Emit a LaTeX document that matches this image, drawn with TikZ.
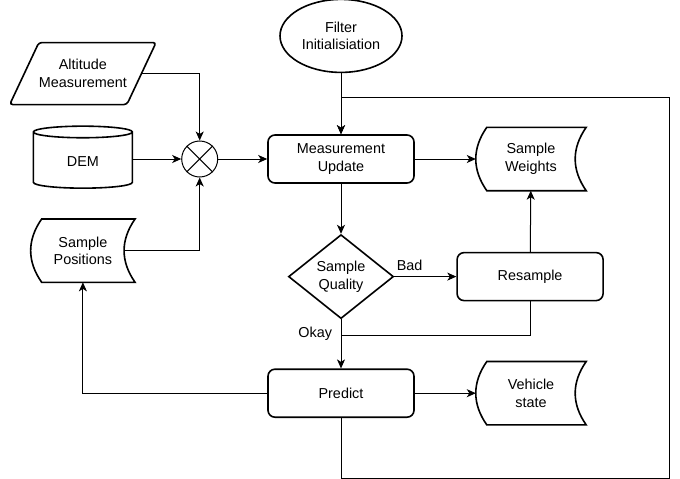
\documentclass[tikz,border=0pt]{standalone}
\usepackage{fontspec}
\setmainfont{Liberation Sans}
\usepackage{tikz}
\usetikzlibrary{shapes.geometric, arrows.meta, positioning}

\begin{document}
\begin{tikzpicture}[
    x=1pt, y=-1pt,
    font=\fontsize{14.4}{17.5}\selectfont,
    block/.style={rectangle, draw, line width=1.6pt, rounded corners=7pt, align=center, minimum width=146pt, minimum height=48pt},
    oval/.style={ellipse, draw, line width=1.6pt, align=center, inner sep=0pt, minimum width=122pt, minimum height=73pt},
    inout/.style={trapezium, trapezium left angle=50, trapezium right angle=130, trapezium stretches=true, draw, line width=1.6pt, rounded corners=3pt, align=center, inner xsep=0pt, minimum width=142pt, minimum height=62pt},
    db/.style={cylinder, shape border rotate=90, aspect=0.3, draw, line width=1.6pt, align=center, minimum width=99pt, minimum height=62pt},
    decision/.style={diamond, draw, line width=1.6pt, align=center, inner sep=0pt, minimum width=105pt, minimum height=84pt},
    mixer/.style={circle, draw, line width=1pt, minimum size=36pt, inner sep=0pt},
    store/.style={rectangle, align=center, inner sep=0pt, minimum width=110pt, minimum height=63pt,
        append after command={\pgfextra{\draw[line width=1.6pt]
            ([xshift=11pt]\tikzlastnode.north west) -- (\tikzlastnode.north east)
            .. controls ([xshift=-14.7pt, yshift=-21pt]\tikzlastnode.north east)
            and ([xshift=-14.7pt, yshift=21pt]\tikzlastnode.south east) .. (\tikzlastnode.south east)
            -- ([xshift=11pt]\tikzlastnode.south west)
            .. controls ([xshift=-3.7pt, yshift=21pt]\tikzlastnode.south west)
            and ([xshift=-3.7pt, yshift=-21pt]\tikzlastnode.north west) .. cycle;}}},
    arrow/.style={-{Stealth[length=9pt, width=8pt, inset=2.5pt]}, line width=1pt}
]
    \useasboundingbox (0,0) rectangle (680,479);
    \node [block] (mu) at (341,159) {Measurement\\Update};
    \node [oval, above=61pt of mu] (init) {Filter\\Initialisiation};
    \node [store, right=61pt of mu] (sw) {Sample\\Weights};
    \node [mixer, left=49pt of mu] (mix) {};
    \node [db, left=48pt of mix, yshift=-2.5pt] (dem) {DEM};
    \node [inout, above=20pt of dem] (alt) {Altitude\\Measurement};
    \node [store, minimum width=104pt, below=30pt of dem] (sp) {Sample\\Positions};
    \node [decision, below=50pt of mu] (sq) {Sample\\Quality};
    \node [block, right=62pt of sq] (rs) {Resample};
    \node [block, below=49pt of sq] (pr) {Predict};
    \node [store, right=61pt of pr] (vs) {Vehicle\\state};
    \coordinate [below=16pt of sq.south] (join);
    \draw [line width=1pt] (mix.45) -- (mix.225) (mix.135) -- (mix.-45);
    \draw [arrow] (init) -- (mu);
    \draw [arrow] (alt.east) -| (mix);
    \draw [arrow] (dem.east |- mix) -- (mix);
    \draw [arrow] ([xshift=-11pt]sp.east) -| (mix);
    \draw [arrow] (mix) -- (mu);
    \draw [arrow] (mu) -- (sw);
    \draw [arrow] (mu) -- (sq);
    \draw [arrow] (sq) -- node[pos=0, above right, inner xsep=2pt, inner ysep=5pt] {Bad} (rs);
    \draw [arrow] (rs) -- (sw);
    \draw [line width=1pt] (rs) |- (join);
    \draw [arrow] (sq) -- node[pos=0.3, left, inner xsep=8.5pt] {Okay} (pr);
    \draw [arrow] (pr) -- (vs);
    \draw [arrow] (pr.west) -| (sp.south);
    \draw [arrow] (pr.south) |- ++(328,60) |- ([yshift=37pt]mu.north) -- (mu.north);
\end{tikzpicture}
\end{document}
